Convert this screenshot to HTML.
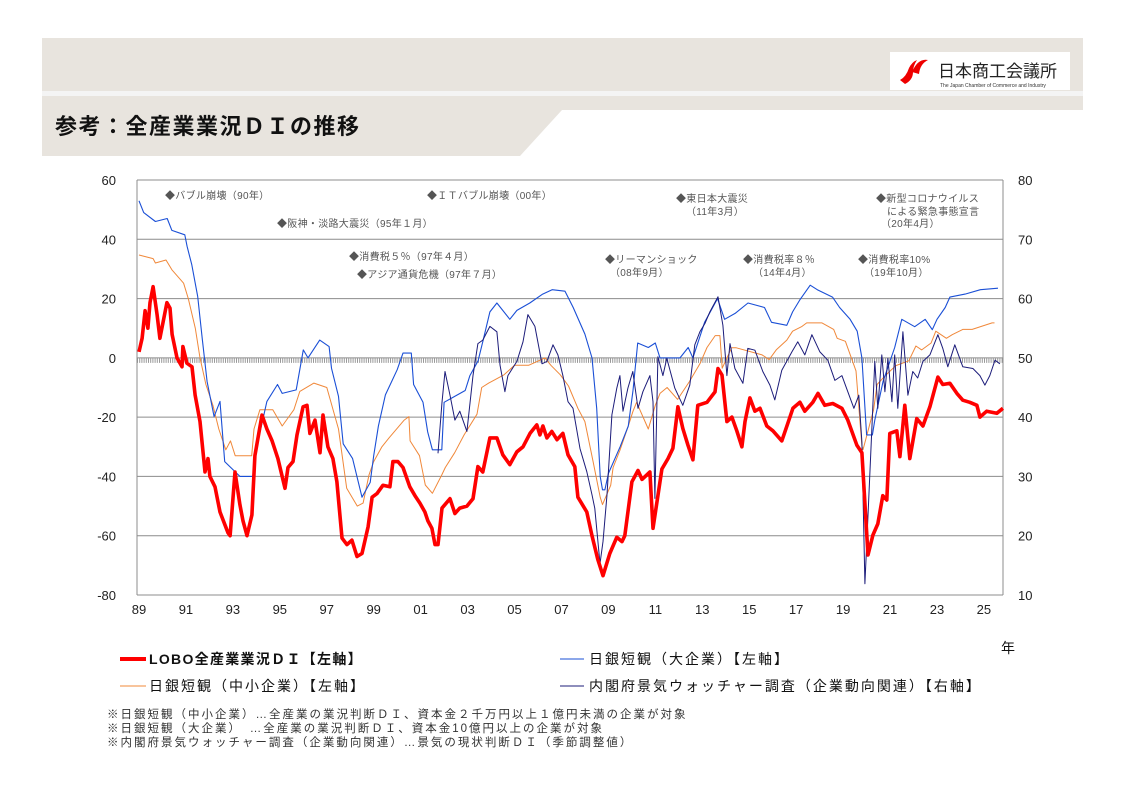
<!DOCTYPE html>
<html><head><meta charset="utf-8">
<style>
body{margin:0;background:#fff;width:1123px;height:794px;overflow:hidden;font-family:"Liberation Sans","Noto Sans CJK JP",sans-serif;}
svg text{font-family:"Liberation Sans","Noto Sans CJK JP",sans-serif;}
</style></head><body>
<svg id="chart" width="1123" height="794" xmlns="http://www.w3.org/2000/svg">
<g>
<rect x="42" y="38" width="1041" height="72" fill="#e8e4de"/>
<rect x="42" y="91" width="1041" height="5" fill="#f4f4f4"/>
<polygon points="42,110 562,110 520,156 42,156" fill="#e8e4de"/>
<rect x="890" y="52" width="180" height="38" fill="#fff"/>
<path d="M900,80 q6,-3 9,-12 q3,-6 8,-8 q-4,6 -4,12 q0,8 -8,12z M912,72 q6,-14 16,-12 q-8,4 -9,14z" fill="#e00"/>
<text x="938" y="77" font-size="17" fill="#222">日本商工会議所</text>
<text x="940" y="87" font-size="5" fill="#333">The Japan Chamber of Commerce and Industry</text>
<text x="55" y="134" font-size="22" font-weight="bold" fill="#111" letter-spacing="1.5">参考：全産業業況ＤＩの推移</text>
</g>
<g id="grid"></g>
<g id="annot" font-size="10" fill="#555" letter-spacing="0.3"></g>
<g id="series"></g>
<g>
<line x1="120" y1="659" x2="146" y2="659" stroke="#f00" stroke-width="4"/>
<text x="149" y="664" font-size="14" font-weight="bold" fill="#111" letter-spacing="1.3">LOBO全産業業況ＤＩ【左軸】</text>
<line x1="560" y1="659" x2="584" y2="659" stroke="#1a4fd6" stroke-width="1"/>
<text x="589" y="664" font-size="14" fill="#111" letter-spacing="2">日銀短観（大企業）【左軸】</text>
<line x1="120" y1="686" x2="146" y2="686" stroke="#f0883a" stroke-width="1"/>
<text x="149" y="691" font-size="14" fill="#111" letter-spacing="2">日銀短観（中小企業）【左軸】</text>
<line x1="560" y1="686" x2="584" y2="686" stroke="#1c1c7a" stroke-width="1"/>
<text x="589" y="691" font-size="14" fill="#111" letter-spacing="2">内閣府景気ウォッチャー調査（企業動向関連）【右軸】</text>
</g>
<text x="1001" y="653" font-size="14" fill="#111">年</text>
<g font-size="11.5" fill="#333" letter-spacing="2">
<text x="107" y="718">※日銀短観（中小企業）…全産業の業況判断ＤＩ、資本金２千万円以上１億円未満の企業が対象</text>
<text x="107" y="732">※日銀短観（大企業）　…全産業の業況判断ＤＩ、資本金10億円以上の企業が対象</text>
<text x="107" y="746">※内閣府景気ウォッチャー調査（企業動向関連）…景気の現状判断ＤＩ（季節調整値）</text>
</g>
</svg>
<script>
const leftTicks=[60,40,20,0,-20,-40,-60,-80];
const rightTicks=[80,70,60,50,40,30,20,10];
const xTickLabels=["89","91","93","95","97","99","01","03","05","07","09","11","13","15","17","19","21","23","25"];
const xTickYears=[1989,1991,1993,1995,1997,1999,2001,2003,2005,2007,2009,2011,2013,2015,2017,2019,2021,2023,2025];

const loboT=[1989.0,1989.13,1989.26,1989.38,1989.47,1989.6,1989.77,1989.89,1990.19,1990.32,1990.41,1990.62,1990.83,1990.87,1991.04,1991.26,1991.39,1991.6,1991.81,1991.94,1992.02,1992.24,1992.45,1992.79,1992.88,1993.09,1993.3,1993.43,1993.6,1993.81,1993.94,1994.07,1994.24,1994.45,1994.67,1994.92,1995.22,1995.35,1995.56,1995.73,1995.99,1996.16,1996.28,1996.5,1996.71,1996.84,1997.05,1997.26,1997.43,1997.65,1997.86,1998.07,1998.29,1998.5,1998.76,1998.93,1999.14,1999.39,1999.69,1999.82,2000.03,2000.25,2000.54,2000.76,2000.97,2001.18,2001.31,2001.48,2001.61,2001.74,2001.91,2002.25,2002.46,2002.67,2002.97,2003.23,2003.44,2003.65,2003.95,2004.25,2004.5,2004.8,2005.1,2005.36,2005.66,2005.95,2006.08,2006.21,2006.38,2006.59,2006.81,2007.06,2007.28,2007.57,2007.7,2008.08,2008.3,2008.55,2008.77,2009.06,2009.36,2009.58,2009.7,2010.0,2010.26,2010.43,2010.77,2010.9,2011.11,2011.28,2011.54,2011.75,2011.96,2012.17,2012.39,2012.6,2012.81,2013.2,2013.54,2013.67,2013.84,2014.05,2014.26,2014.47,2014.69,2014.82,2015.03,2015.24,2015.46,2015.75,2016.01,2016.39,2016.65,2016.86,2017.16,2017.37,2017.71,2017.93,2018.22,2018.56,2018.95,2019.2,2019.59,2019.8,2020.06,2020.27,2020.48,2020.69,2020.86,2020.99,2021.29,2021.42,2021.63,2021.84,2022.14,2022.4,2022.7,2023.04,2023.25,2023.55,2023.85,2024.1,2024.4,2024.7,2024.83,2025.12,2025.55,2025.81];
const loboV=[2,6.6,15.9,10,18.6,24,14.5,6.6,18.6,16.8,7.9,0,-3,3.8,-1.8,-3,-12.5,-21.5,-38.5,-34,-40,-43.5,-52,-59,-60,-38.5,-49.5,-55,-60,-53,-33,-27,-19.3,-24,-28,-34,-44,-37,-35,-26,-16.5,-16,-25.5,-21,-32,-19.3,-30,-34,-41.8,-60.8,-63,-61.5,-67,-66,-57,-47,-45.8,-43,-43.5,-35,-35,-37,-43.5,-46.5,-49,-52,-55,-57.5,-63,-63,-50.7,-47.5,-52.5,-50.7,-50,-47.5,-36.7,-38.5,-27,-27,-32.7,-36,-31.7,-30,-25.5,-22.6,-26,-23,-27,-24.8,-27.6,-25.5,-32.7,-36.7,-47,-52,-60,-68,-73.5,-66,-60.5,-62,-60,-41.8,-38,-41,-38.5,-57.5,-46.5,-37.5,-34,-30.5,-16.5,-23.8,-29.5,-34.4,-16,-15,-11.5,-3.6,-5.8,-21.5,-20,-24.6,-30,-21.5,-13.5,-18,-17,-23,-24.6,-28,-22,-17,-15,-18,-15,-12,-16,-15.4,-17,-21,-29.5,-32,-66.5,-59.8,-56,-46.5,-48,-25.5,-24.6,-33.3,-16,-34,-20.5,-23,-16.5,-6.5,-9,-8.6,-12,-14.3,-15,-16,-20,-18,-18.7,-17];

const largeT=[1989.0,1989.2,1989.7,1990.2,1990.4,1990.95,1991.05,1991.25,1991.5,1991.7,1991.9,1992.2,1992.45,1992.65,1993.3,1993.85,1994.0,1994.45,1994.9,1995.1,1995.7,1996.0,1996.2,1996.7,1997.1,1997.2,1997.5,1997.7,1998.1,1998.5,1998.85,1999.0,1999.2,1999.5,2000.0,2000.25,2000.6,2000.7,2001.1,2001.3,2001.5,2001.9,2002.0,2002.45,2002.9,2003.1,2003.45,2003.65,2003.95,2004.25,2004.8,2005.1,2005.65,2006.2,2006.6,2007.15,2007.5,2008.0,2008.3,2008.5,2008.65,2008.75,2008.85,2009.0,2009.5,2009.85,2010.05,2010.25,2010.7,2011.0,2011.2,2012.05,2012.4,2012.6,2013.1,2013.65,2013.95,2014.4,2014.95,2015.65,2015.95,2016.6,2016.85,2017.15,2017.6,2017.9,2018.55,2018.85,2019.3,2019.6,2019.8,2020.0,2020.25,2020.35,2020.7,2021.2,2021.5,2022.05,2022.5,2022.8,2023.0,2023.35,2023.55,2024.2,2024.85,2025.6];
const largeV=[53,49,46,47,43,41.5,37.6,31.4,20.7,6,-8,-19.8,-14.7,-35,-40,-40,-30.5,-14.7,-9,-12,-10.8,2.7,0,6,3.8,-3.5,-13,-29,-34,-47,-42,-33,-23,-12.5,-4,1.6,1.6,-9,-15,-25,-31,-31,-15,-13,-11,-6,-1,5.5,15.5,18.5,13,16,18.5,21.5,23,22.5,17,8,0,-17,-40,-44.5,-44.5,-39,-30,-23,-11,5,3.5,5,0,0,3.5,0,12,20,13,15,18.5,17,12,11,15.5,19.5,24.5,23,20.5,17,13,9,0,-26,-26,-21,-8,3.5,13,10.5,13,9.5,13,17,20.5,21.5,23,23.5];

const smallT=[1989.0,1989.6,1989.7,1990.15,1990.4,1990.7,1990.9,1991.1,1991.4,1991.6,1991.85,1992.15,1992.4,1992.7,1992.9,1993.1,1993.8,1993.9,1994.15,1994.7,1995.1,1995.6,1995.85,1996.45,1997.0,1997.5,1997.85,1998.3,1998.55,1998.8,1999.0,1999.35,1999.65,2000.3,2000.5,2000.55,2000.95,2001.2,2001.5,2001.9,2002.05,2002.45,2002.85,2003.4,2003.6,2003.9,2004.55,2005.0,2005.6,2006.3,2006.55,2006.95,2007.3,2007.7,2008.0,2008.35,2008.65,2008.75,2009.1,2009.2,2009.5,2009.85,2010.05,2010.2,2010.7,2011.0,2011.2,2011.5,2011.95,2012.45,2012.9,2013.2,2013.55,2013.75,2013.85,2014.25,2014.45,2015.55,2015.85,2016.15,2016.6,2016.85,2017.25,2017.45,2018.1,2018.6,2018.75,2019.1,2019.55,2019.8,2019.85,2020.3,2020.45,2020.8,2021.25,2021.8,2022.1,2022.35,2022.75,2022.95,2023.4,2023.65,2024.1,2024.5,2025.35,2025.45,2025.6];
const smallV=[34.7,33.5,32,33,29.7,27,25.2,20,10,0,-9,-16,-24,-31,-28,-33,-33,-24,-17.5,-17.5,-23,-17.5,-11.3,-8.5,-10,-24,-44,-50,-49,-39.5,-35,-30,-27,-21,-19.8,-28,-33,-42.9,-45.7,-39.5,-37,-32,-26,-19,-10,-8.5,-5.7,-2.5,-2.5,0,-2.5,-5.7,-9.5,-17,-21.5,-35,-47,-49.5,-43,-37,-31,-23,-18,-15,-24,-16,-12,-10,-14,-8,-2,3.5,7.5,7.5,-3.5,3.4,3.4,1,-0.6,2.7,6,9,10.6,11.8,11.8,9.6,6.6,5.6,-4.4,-29.7,-31,-17.5,-9,-6,-2.6,-1,4,2.7,5,9,6.6,7.8,9.6,9.6,11.8,11.8];

const watchT=[2001.74,2001.91,2002.04,2002.25,2002.46,2002.67,2002.97,2003.23,2003.44,2003.65,2003.95,2004.25,2004.38,2004.59,2004.72,2005.1,2005.36,2005.57,2005.87,2006.17,2006.38,2006.64,2006.85,2007.06,2007.28,2007.49,2007.79,2008.08,2008.3,2008.42,2008.64,2008.77,2008.94,2009.15,2009.36,2009.49,2009.62,2009.83,2010.04,2010.26,2010.47,2010.77,2010.9,2010.98,2011.11,2011.32,2011.49,2011.83,2012.17,2012.47,2012.68,2012.9,2013.11,2013.33,2013.67,2013.88,2014.05,2014.18,2014.39,2014.73,2014.94,2015.24,2015.58,2015.88,2016.09,2016.39,2016.82,2017.07,2017.37,2017.67,2018.01,2018.35,2018.65,2018.95,2019.2,2019.46,2019.67,2019.8,2019.93,2020.06,2020.23,2020.35,2020.48,2020.65,2020.78,2020.91,2021.08,2021.2,2021.33,2021.55,2021.76,2021.97,2022.18,2022.4,2022.7,2023.04,2023.25,2023.46,2023.76,2024.1,2024.53,2024.83,2025.04,2025.25,2025.47,2025.68];
const watchV=[33.9,42.5,47.7,43.7,39.5,41,37.6,47,52.4,53,55.3,54.4,48.8,44.3,47,49.4,52.7,57.3,55.3,49,49.4,52.2,50.5,47,42.6,41.5,34.7,30.8,26.9,24.6,15.3,19,26.9,40.4,44.9,47,41,44.9,47.7,41.5,44.3,47,42.6,26.3,50.2,47,49.9,44.9,42,45.4,52.2,54.4,55.8,57.8,60.3,55.5,47,52.4,48.2,45.7,51.6,51.3,47.7,45.4,42.9,47.9,51,52.7,50.5,53.9,51,49.6,46.2,47,44.3,41.5,43.7,35.8,11.9,23.4,38.6,49.4,41.5,50.5,44.3,49.9,42.6,50.5,41.5,54.4,43.7,47.7,46.6,49.4,50.5,53.9,51.6,48.5,52.2,48.5,48.2,47,45.4,47,49.6,49];

const NS="http://www.w3.org/2000/svg";
const PL=137,PR=1003,PT=180,PB=595;
function xs(y){return 139+(y-1989)*23.47;}
function yl(v){return PT+(60-v)*(PB-PT)/140;}
function yr(v){return PT+(80-v)*(PB-PT)/70;}
function mk(tag,attrs,parent){const e=document.createElementNS(NS,tag);for(const k in attrs)e.setAttribute(k,attrs[k]);parent.appendChild(e);return e;}
const grid=document.getElementById('grid');
leftTicks.forEach((v,i)=>{
  const l=mk('line',{x1:PL,x2:PR,y1:yl(v),y2:yl(v),stroke:'#8c8c8c','stroke-width':1},grid);
  
  
  const t=mk('text',{x:116,y:yl(v)+5,'text-anchor':'end','font-size':13,fill:'#222'},grid);
  t.textContent=v;
  
  
});
rightTicks.forEach(v=>{
  const t=mk('text',{x:1018,y:yr(v)+5,'font-size':13,fill:'#222'},grid);
  t.textContent=v;
  
  
});
const z=mk('line',{x1:PL,x2:PR,y1:yl(0)+2.5,y2:yl(0)+2.5,stroke:'#999','stroke-width':5,'stroke-dasharray':'1 1.2'},grid);


[[PL,PT,PL,PB],[PR,PT,PR,PB],[PL,PB,PR,PB]].forEach(a=>{
  const l=mk('line',{x1:a[0],y1:a[1],x2:a[2],y2:a[3],stroke:'#8c8c8c','stroke-width':1},grid);
  
  
});
xTickLabels.forEach((s,i)=>{
  const t=mk('text',{x:xs(xTickYears[i]),y:614,'text-anchor':'middle','font-size':13,fill:'#222'},grid);
  t.textContent=s;
  
  
});
const annTexts=["◆バブル崩壊（90年）","◆ＩＴバブル崩壊（00年）","◆東日本大震災","（11年3月）","◆新型コロナウイルス","による緊急事態宣言","（20年4月）","◆阪神・淡路大震災（95年１月）","◆消費税５％（97年４月）","◆アジア通貨危機（97年７月）","◆リーマンショック","（08年9月）","◆消費税率８％","（14年4月）","◆消費税率10%","（19年10月）"];
const annPos=[[165,199],[427,199],[676,202],[686,215],[876,202],[887,215],[881,227],[277,227],[349,260],[357,278],[605,263],[610,276],[743,263],[753,276],[858,263],[864,276]];
const ann=document.getElementById('annot');
annTexts.forEach((s,i)=>{
  const t=mk('text',{x:annPos[i][0],y:annPos[i][1]},ann);
  t.textContent=s;
  
  
});
const ser=document.getElementById('series');
function line(T,V,yf,color,w,name){
  const d=T.map((t,i)=>(i?'L':'M')+xs(t).toFixed(1)+','+yf(V[i]).toFixed(1)).join('');
  const p=mk('path',{d:d,fill:'none',stroke:color,'stroke-width':w,'stroke-linejoin':'round'},ser);
  
  
}
line(smallT,smallV,yl,'#f0883a',1,'series-boj-small');
line(largeT,largeV,yl,'#1a4fd6',1.1,'series-boj-large');
line(watchT,watchV,yr,'#1c1c7a',1,'series-watcher');
line(loboT,loboV,yl,'#ff0000',3.6,'series-lobo');
</script>
</body></html>
